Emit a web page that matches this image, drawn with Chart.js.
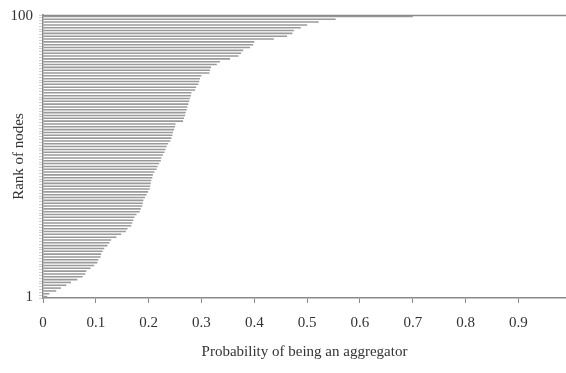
<!DOCTYPE html>
<html>
<head>
<meta charset="utf-8">
<script src="https://cdn.jsdelivr.net/npm/chart.js@4"></script>
<style>
  html, body { margin: 0; padding: 0; background: #fff; overflow: hidden; }
  #wrap { width: 566px; height: 373px; }
</style>
</head>
<body>
<div id="wrap"><canvas id="myChart"></canvas></div>
<script>
// rank 1 (bottom) up to rank 100 (top)
const probability = [
  0.008, 0.012, 0.025, 0.034, 0.044, 0.053, 0.065, 0.075, 0.080, 0.082,
  0.090, 0.097, 0.103, 0.105, 0.109, 0.110, 0.113, 0.116, 0.122, 0.126,
  0.129, 0.139, 0.148, 0.157, 0.160, 0.167, 0.169, 0.171, 0.173, 0.177,
  0.183, 0.185, 0.188, 0.189, 0.190, 0.193, 0.196, 0.199, 0.202, 0.203,
  0.204, 0.205, 0.207, 0.208, 0.211, 0.215, 0.217, 0.220, 0.223, 0.224,
  0.227, 0.230, 0.232, 0.234, 0.237, 0.241, 0.243, 0.245, 0.246, 0.248,
  0.250, 0.251, 0.265, 0.267, 0.269, 0.270, 0.272, 0.273, 0.275, 0.277,
  0.278, 0.280, 0.281, 0.288, 0.290, 0.294, 0.296, 0.297, 0.300, 0.315,
  0.316, 0.318, 0.329, 0.335, 0.354, 0.370, 0.375, 0.379, 0.392, 0.398,
  0.400, 0.437, 0.462, 0.472, 0.475, 0.488, 0.500, 0.522, 0.554, 0.700
];
const ranks = probability.map((v, i) => String(i + 1));
const rankLabels = ["1", "100"];
const xTicks = [0, 0.1, 0.2, 0.3, 0.4, 0.5, 0.6, 0.7, 0.8, 0.9];

const serif = "'Liberation Serif', 'Times New Roman', serif";
const axisGray = "#8a8a8a";

// thin frame line along the top of the plot
const topLine = {
  id: "topLine",
  afterDraw(chart) {
    const { ctx, chartArea } = chart;
    ctx.save();
    ctx.strokeStyle = axisGray;
    ctx.lineWidth = 1.5;
    ctx.beginPath();
    ctx.moveTo(chartArea.left, chartArea.top + 0.5);
    ctx.lineTo(chartArea.right, chartArea.top + 0.5);
    ctx.stroke();
    ctx.restore();
  }
};

const cxt = document.querySelector("#myChart");

new Chart(cxt, {
  type: "bar",
  data: {
    labels: ranks,
    datasets: [{
      data: probability,
      backgroundColor: "#9a9a9a",
      barPercentage: 0.55,
      categoryPercentage: 1.0
    }]
  },
  options: {
    indexAxis: "y",
    responsive: true,
    maintainAspectRatio: false,
    animation: false,
    layout: { padding: { top: 12, left: 0, right: 0, bottom: 0 } },
    plugins: {
      legend: { display: false },
      tooltip: { enabled: false }
    },
    scales: {
      x: {
        type: "linear",
        min: 0,
        max: 0.99,
        afterFit: (scale) => { scale.height = 75; },
        afterBuildTicks: (scale) => {
          scale.ticks = xTicks.map((v) => ({ value: v }));
        },
        ticks: {
          color: "#333",
          padding: 11,
          font: { family: serif, size: 15 },
          callback: (v) => (v === 0 ? "0" : v.toFixed(1))
        },
        grid: {
          drawOnChartArea: false,
          drawTicks: true,
          tickLength: 5,
          color: axisGray
        },
        border: { display: true, color: axisGray, width: 1.5 },
        title: {
          display: true,
          text: "Probability of being an aggregator",
          color: "#333",
          font: { family: serif, size: 15 },
          padding: { top: 0, bottom: 12 }
        }
      },
      y: {
        type: "category",
        reverse: true,
        afterFit: (scale) => { scale.width = 43; },
        ticks: {
          autoSkip: false,
          color: "#333",
          padding: 6,
          font: { family: serif, size: 15 },
          callback: function (v) {
            const lab = this.getLabelForValue(v);
            return rankLabels.includes(lab) ? lab : "";
          }
        },
        grid: {
          drawOnChartArea: false,
          drawTicks: true,
          tickLength: 4,
          color: "#b0b0b0",
          lineWidth: 0.6
        },
        border: { display: true, color: axisGray, width: 1.5 },
        title: {
          display: true,
          text: "Rank of nodes",
          color: "#333",
          font: { family: serif, size: 15 },
          padding: { top: 10, bottom: 0 }
        }
      }
    }
  },
  plugins: [topLine]
});
</script>
</body>
</html>
